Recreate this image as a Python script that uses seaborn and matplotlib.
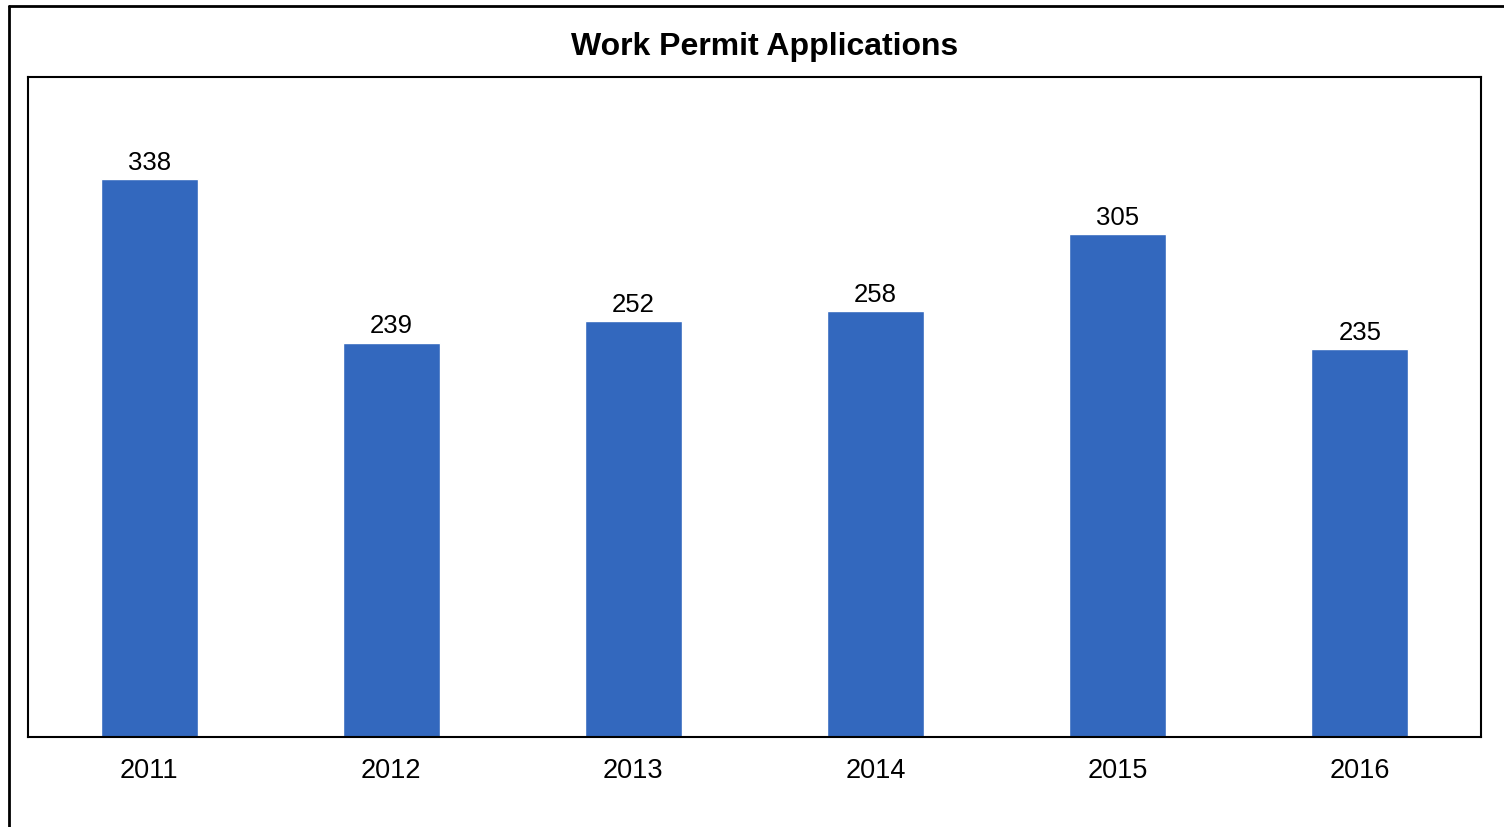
import matplotlib
matplotlib.use('Agg')
import matplotlib.pyplot as plt
import pandas as pd
import seaborn as sns

years = ['2011', '2012', '2013', '2014', '2015', '2016']
applications = [338, 239, 252, 258, 305, 235]

df = pd.DataFrame({'year': years, 'count': applications})

sns.set_style('white')
plt.rcParams['font.family'] = ['Liberation Sans', 'DejaVu Sans']
plt.rcParams['text.color'] = 'black'
plt.rcParams['xtick.color'] = 'black'
plt.rcParams['xtick.labelcolor'] = 'black'

fig = plt.figure(figsize=(15.04, 8.27), dpi=100)
ax = fig.add_axes([28 / 1504, 1 - 737 / 827, (1481 - 28) / 1504, (737 - 77) / 827])

sns.barplot(data=df, x='year', y='count', color='#3368BE', width=0.4,
            saturation=1, ax=ax)

ax.set_ylim(0, 400)
ax.set_xlim(-0.5, 5.5)
ax.set_yticks([])
ax.set_xlabel('')
ax.set_ylabel('')
ax.tick_params(axis='x', length=0, pad=15, labelsize=19.5, labelcolor='black')
for s in ax.spines.values():
    s.set_visible(True)
    s.set_color('black')
    s.set_linewidth(1.5)

for p, v in zip(ax.patches, applications):
    ax.annotate(str(v), (p.get_x() + p.get_width() / 2, p.get_height()),
                xytext=(0, 3), textcoords='offset points',
                ha='center', va='bottom', fontsize=18.5, color='black')

fig.text(765 / 1504, 1 - 47 / 827, 'Work Permit Applications', ha='center',
         va='center', fontsize=23, fontweight='bold', color='black')

# outer frame, cut off on the right and bottom
fig.add_artist(plt.Line2D([8.5 / 1504, 8.5 / 1504], [0, 1 - 5.5 / 827],
                          color='black', lw=2, transform=fig.transFigure))
fig.add_artist(plt.Line2D([8.5 / 1504, 1], [1 - 5.5 / 827, 1 - 5.5 / 827],
                          color='black', lw=2, transform=fig.transFigure))

plt.savefig('out.png', dpi=100)
plt.close('all')
